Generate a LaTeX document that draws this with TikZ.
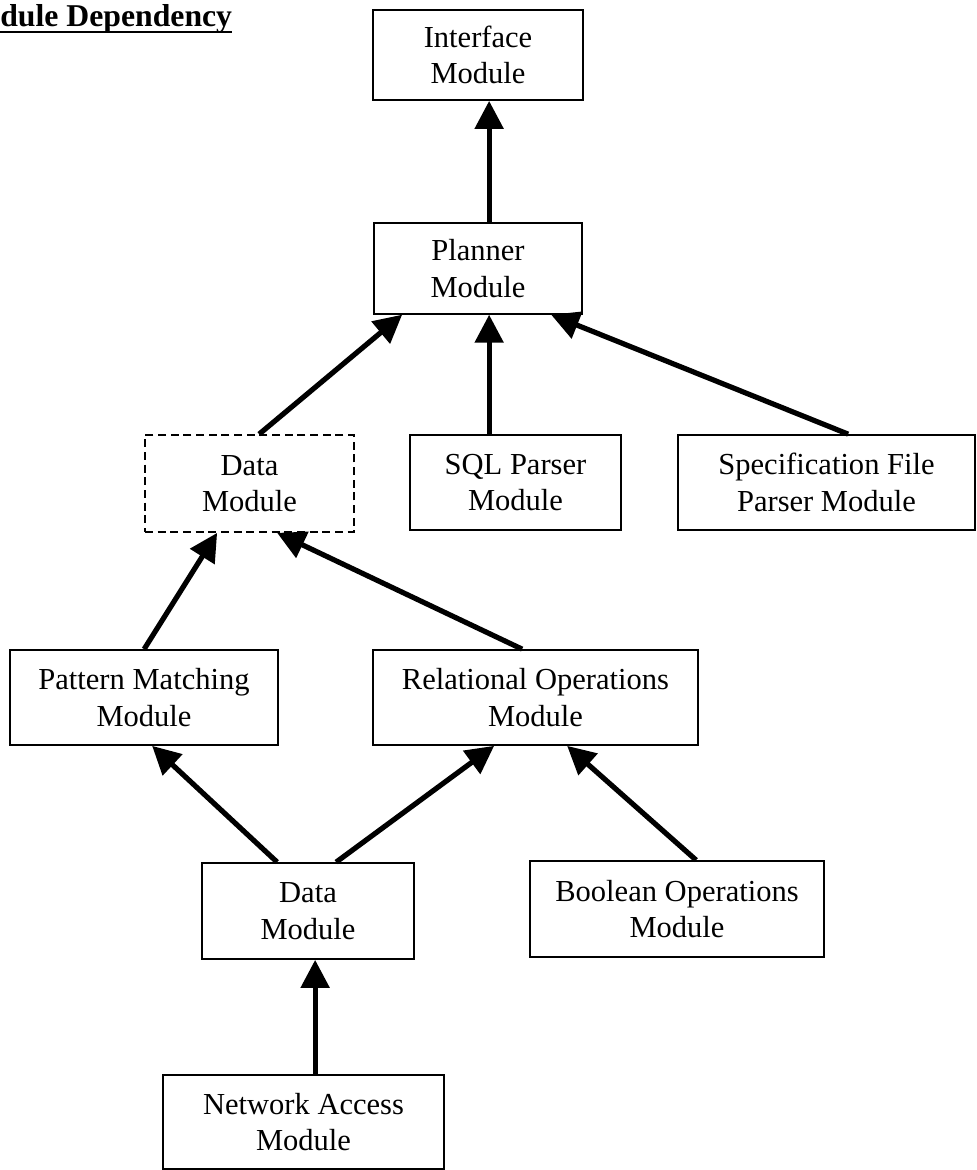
\documentclass[tikz,border=0pt]{standalone}
\usepackage{fontspec}
\setmainfont{Liberation Serif}
\usetikzlibrary{arrows.meta,calc}

\tikzset{
  modbox/.style={draw, line width=1.3pt, align=center, inner sep=0pt,
    font=\fontsize{22.9pt}{27.5pt}\selectfont},
  dashbox/.style={modbox, dash pattern=on 6pt off 3.5pt},
  dep/.style={line width=3.9pt, -{Triangle[length=21pt,width=21pt]}},
}

\begin{document}
\begin{tikzpicture}[x=0.75pt,y=-0.75pt]
  \useasboundingbox (0,0) rectangle (977,1170);

  % heading
  \node[anchor=base west, inner sep=0pt, font=\fontsize{23.8pt}{28pt}\selectfont\bfseries]
    (title) at (0,27) {dule Dependency};
  \draw[line width=1.6pt] ($(title.base west)+(0,5)$) -- ($(title.base east)+(0,5)$);

  % modules
  \node[modbox, minimum width=157.5pt, minimum height=67.5pt] (iface)   at (478,55)    {Interface\\Module};
  \node[modbox, minimum width=156pt,   minimum height=68pt]   (planner) at (478,268.5) {Planner\\Module};
  \node[dashbox, minimum width=156.75pt, minimum height=72.75pt] (data) at (249.5,483.5) {Data\\Module};
  \node[modbox, minimum width=158.25pt, minimum height=71.25pt] (sql)   at (515.5,482.5) {SQL Parser\\Module};
  \node[modbox, minimum width=222.75pt, minimum height=71.25pt] (spec)  at (826.5,482.5) {Specification File\\Parser Module};
  \node[modbox, minimum width=201pt,   minimum height=71.25pt] (pat)    at (144,697.5)   {Pattern Matching\\Module};
  \node[modbox, minimum width=243.75pt, minimum height=71.25pt] (rel)   at (535.5,697.5) {Relational Operations\\Module};
  \node[modbox, minimum width=159pt,   minimum height=72pt]   (ldata)   at (308,911)     {Data\\Module};
  \node[modbox, minimum width=220.5pt, minimum height=72pt]   (bool)    at (677,909)     {Boolean Operations\\Module};
  \node[modbox, minimum width=210.75pt, minimum height=70.5pt] (net)    at (303.5,1122)  {Network Access\\Module};

  % dependencies
  \draw[dep] ($(planner.north west)+(116,0)$) -- ($(iface.south west)+(117,0)$);
  \draw[dep] ($(data.north west)+(115,0)$)    -- ($(planner.south west)+(29,0)$);
  \draw[dep] ($(sql.north west)+(80,0)$)      -- ($(planner.south west)+(116,0)$);
  \draw[dep] ($(spec.north west)+(171,0)$)    -- ($(planner.south west)+(178,0)$);
  \draw[dep] ($(pat.north west)+(135,0)$)     -- ($(data.south west)+(73,0)$);
  \draw[dep] ($(rel.north west)+(150,0)$)     -- ($(data.south west)+(133,0)$);
  \draw[dep] ($(ldata.north west)+(76,0)$)    -- ($(pat.south west)+(143,0)$);
  \draw[dep] ($(ldata.north west)+(135,0)$)   -- ($(rel.south west)+(122,0)$);
  \draw[dep] ($(bool.north west)+(167,0)$)    -- ($(rel.south west)+(195,0)$);
  \draw[dep] ($(net.north west)+(153,0)$)     -- ($(ldata.south west)+(114,0)$);
\end{tikzpicture}
\end{document}
